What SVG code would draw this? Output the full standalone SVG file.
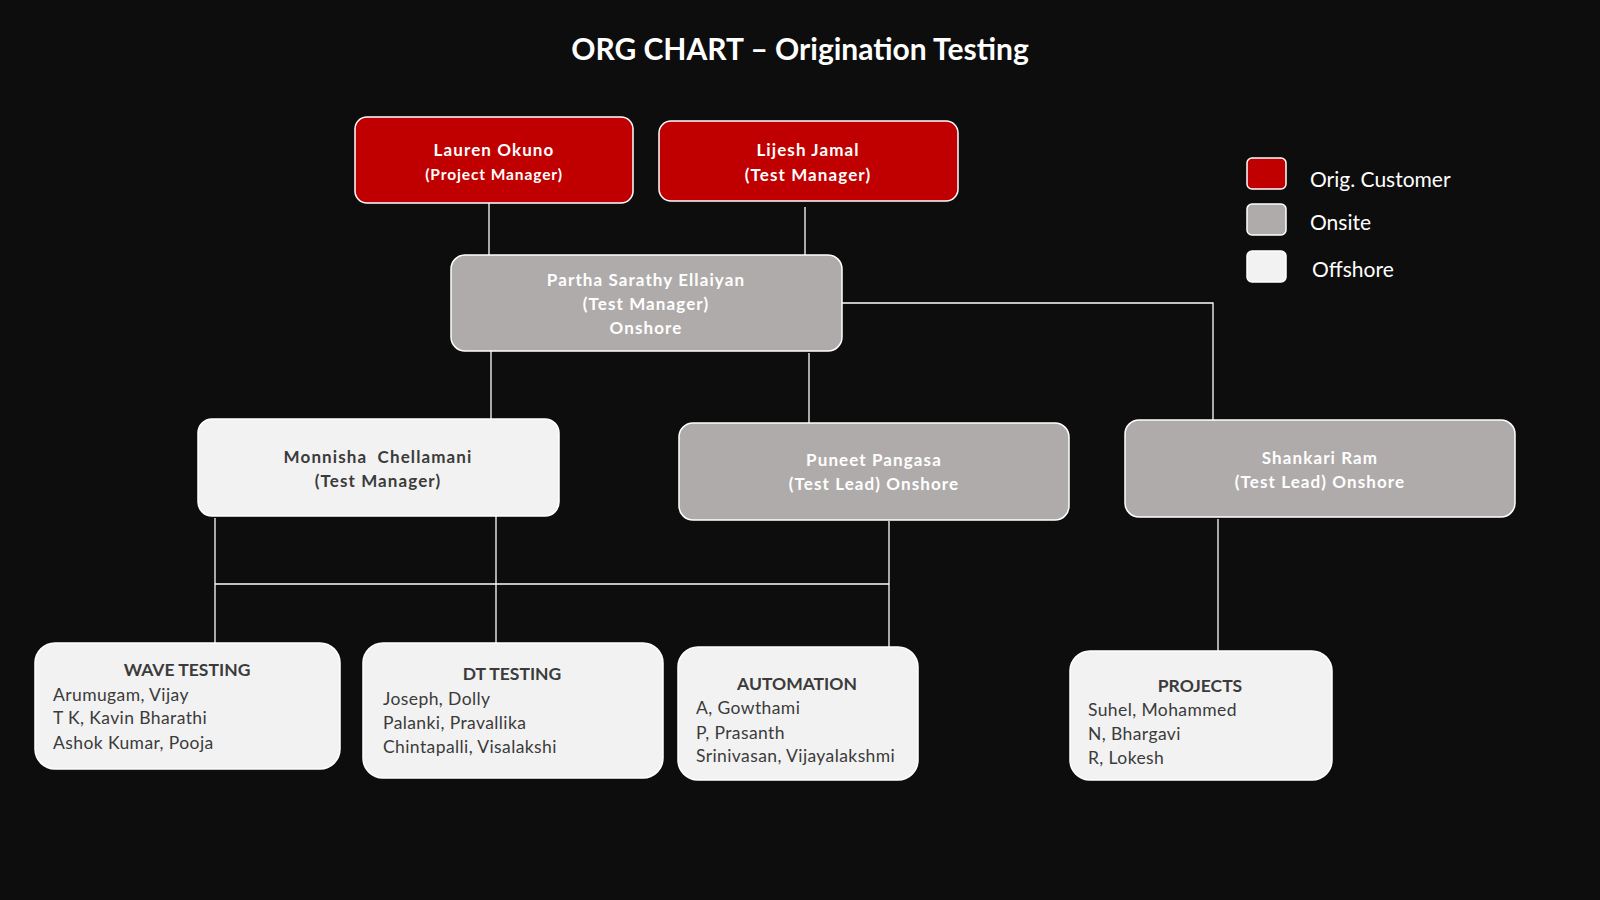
<svg xmlns="http://www.w3.org/2000/svg" width="1600" height="900" viewBox="0 0 1600 900">
<style>
.bg{fill:#0d0d0d}
.box{stroke:#ffffff;stroke-width:1.5}
.red{fill:#c00000}
.grey{fill:#afabab}
.off{fill:#f2f2f2}
.con{stroke:#ffffff;stroke-width:1.3;fill:none}
text{font-family:Lato,"Open Sans","Liberation Sans",sans-serif}
.title{font-size:30px;font-weight:bold;fill:#ffffff;text-anchor:middle}
.nw{font-size:17px;font-weight:bold;fill:#ffffff;text-anchor:middle;letter-spacing:1.1px}
.nd{font-size:17px;font-weight:bold;fill:#3b3b3b;text-anchor:middle;letter-spacing:1.1px}
.th{font-size:17.5px;font-weight:bold;fill:#3b3b3b;text-anchor:middle}
.mem{font-size:17.5px;fill:#3b3b3b;letter-spacing:0.4px}
.leg{font-size:21px;fill:#ffffff}
</style>
<rect class="bg" x="0" y="0" width="1600" height="900"/>
<text class="title" x="800" y="60">ORG CHART – Origination Testing</text>

<g id="connectors">
<line class="con" x1="489" y1="203" x2="489" y2="255"/>
<line class="con" x1="805" y1="207" x2="805" y2="255"/>
<polyline class="con" points="842,303 1213,303 1213,420"/>
<line class="con" x1="491" y1="351" x2="491" y2="419"/>
<line class="con" x1="809" y1="353" x2="809" y2="423"/>
<line class="con" x1="215" y1="518" x2="215" y2="643"/>
<line class="con" x1="496" y1="516" x2="496" y2="643"/>
<line class="con" x1="215" y1="584" x2="889" y2="584"/>
<line class="con" x1="889" y1="521" x2="889" y2="647"/>
<line class="con" x1="1218" y1="519" x2="1218" y2="651"/>
</g>

<g id="lauren">
<rect class="box red" x="355" y="117" width="278" height="86" rx="12"/>
<text class="nw" x="494" y="156">Lauren Okuno</text>
<text class="nw" x="494" y="180" style="font-size:15.5px;letter-spacing:0.9px">(Project Manager)</text>
</g>
<g id="lijesh">
<rect class="box red" x="659" y="121" width="299" height="80" rx="12"/>
<text class="nw" x="808" y="156">Lijesh Jamal</text>
<text class="nw" x="808" y="181">(Test Manager)</text>
</g>
<g id="partha">
<rect class="box grey" x="451" y="255" width="391" height="96" rx="14"/>
<text class="nw" x="646" y="286">Partha Sarathy Ellaiyan</text>
<text class="nw" x="646" y="310">(Test Manager)</text>
<text class="nw" x="646" y="334">Onshore</text>
</g>
<g id="monnisha">
<rect class="box off" x="198" y="419" width="361" height="97" rx="14"/>
<text class="nd" x="378" y="463" xml:space="preserve">Monnisha  Chellamani</text>
<text class="nd" x="378" y="487">(Test Manager)</text>
</g>
<g id="puneet">
<rect class="box grey" x="679" y="423" width="390" height="97" rx="14"/>
<text class="nw" x="874" y="466">Puneet Pangasa</text>
<text class="nw" x="874" y="490">(Test Lead) Onshore</text>
</g>
<g id="shankari">
<rect class="box grey" x="1125" y="420" width="390" height="97" rx="14"/>
<text class="nw" x="1320" y="464">Shankari Ram</text>
<text class="nw" x="1320" y="488">(Test Lead) Onshore</text>
</g>

<g id="wave">
<rect class="box off" x="35" y="643" width="305" height="126" rx="20"/>
<text class="th" x="187" y="676">WAVE TESTING</text>
<text class="mem" x="53" y="701">Arumugam, Vijay</text>
<text class="mem" x="53" y="724">T K, Kavin Bharathi</text>
<text class="mem" x="53" y="749">Ashok Kumar, Pooja</text>
</g>
<g id="dt">
<rect class="box off" x="363" y="643" width="300" height="135" rx="20"/>
<text class="th" x="512" y="680">DT TESTING</text>
<text class="mem" x="383" y="705">Joseph, Dolly</text>
<text class="mem" x="383" y="729">Palanki, Pravallika</text>
<text class="mem" x="383" y="753">Chintapalli, Visalakshi</text>
</g>
<g id="automation">
<rect class="box off" x="678" y="647" width="240" height="133" rx="20"/>
<text class="th" x="797" y="690">AUTOMATION</text>
<text class="mem" x="696" y="714">A, Gowthami</text>
<text class="mem" x="696" y="739">P, Prasanth</text>
<text class="mem" x="696" y="762">Srinivasan, Vijayalakshmi</text>
</g>
<g id="projects">
<rect class="box off" x="1070" y="651" width="262" height="129" rx="20"/>
<text class="th" x="1200" y="692">PROJECTS</text>
<text class="mem" x="1088" y="716">Suhel, Mohammed</text>
<text class="mem" x="1088" y="740">N, Bhargavi</text>
<text class="mem" x="1088" y="764">R, Lokesh</text>
</g>

<g id="legend">
<rect class="box red" x="1247" y="158" width="39" height="31" rx="5"/>
<rect class="box grey" x="1247" y="204" width="39" height="31" rx="5"/>
<rect class="box off" x="1247" y="251" width="39" height="31" rx="5"/>
<text class="leg" x="1310" y="187">Orig. Customer</text>
<text class="leg" x="1310" y="230">Onsite</text>
<text class="leg" x="1312" y="277">Offshore</text>
</g>
</svg>
